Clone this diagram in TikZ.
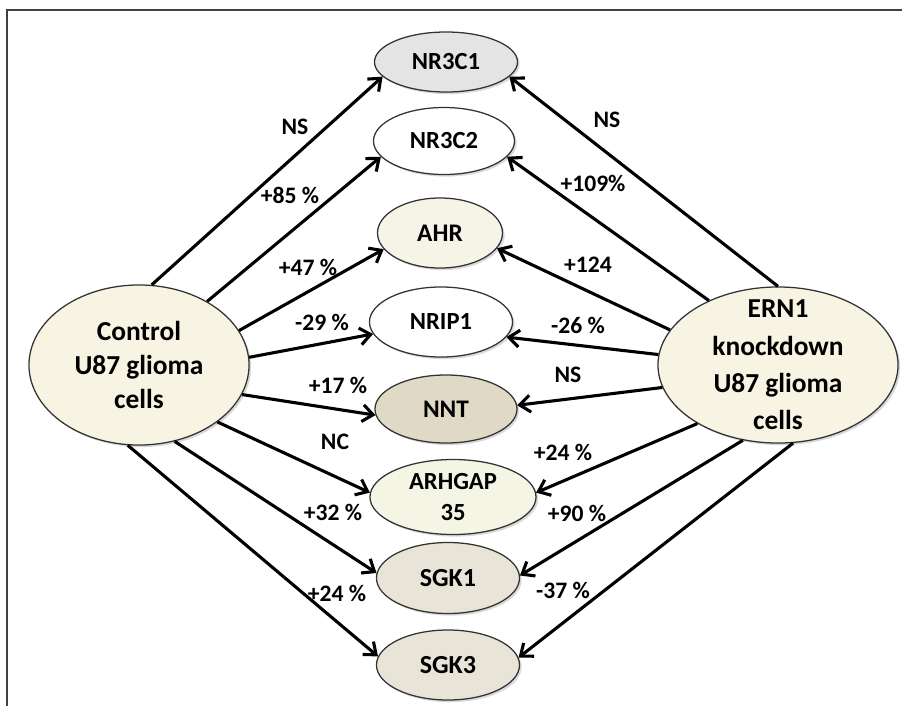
\documentclass[tikz,border=0pt]{standalone}
\usepackage{fontspec}
\setmainfont{Carlito}
\usetikzlibrary{shapes.geometric, arrows.meta, shadows}

\definecolor{cellfill}{HTML}{F7F4E4}
\definecolor{greyfill}{HTML}{E4E4E4}
\definecolor{ahrfill}{HTML}{F6F4E6}
\definecolor{nntfill}{HTML}{E0D9C5}
\definecolor{gapfill}{HTML}{F4F5E4}
\definecolor{sgkfill}{HTML}{E8E4D8}

\tikzset{
  shade/.style={drop shadow={opacity=0.3, shadow xshift=1.5pt, shadow yshift=-1.5pt}},
  cell/.style={ellipse, draw=black!80, line width=0.9pt, inner sep=0pt, fill=cellfill,
    align=center, font=\bfseries\fontsize{19.5}{24.5}\selectfont, shade},
  gene/.style={ellipse, draw=black!80, line width=0.9pt, inner sep=0pt, fill=white,
    align=center, font=\bfseries\fontsize{17.5}{21.5}\selectfont,
    minimum width=3.575cm, minimum height=1.75cm, shade},
  change/.style={font=\bfseries\fontsize{16.8}{20}\selectfont},
  link/.style={line width=2.2pt, -{Straight Barb[length=7.5pt,width=12pt]}},
}

\begin{document}
\begin{tikzpicture}[x=0.025cm, y=-0.025cm]
\useasboundingbox (0,0) rectangle (902,706);
\draw[black!75, line width=1.4pt] (7,706) -- (7,10) -- (902,10);

% cells
\node[cell, minimum width=5.5cm, minimum height=4cm] (ctrl) at (139,365) {Control\\U87 glioma\\cells};
\node[cell, minimum width=6cm, minimum height=3.9cm, inner ysep=-10pt, font=\bfseries\fontsize{19.5}{26.5}\selectfont] (ern) at (778,365) {ERN1\\knockdown\\U87 glioma\\cells};

% genes
\node[gene, fill=greyfill, minimum height=1.5cm] (nr3c1) at (446,62) {NR3C1};
\node[gene, minimum width=3.525cm, minimum height=1.675cm] (nr3c2) at (444,141) {NR3C2};
\node[gene, fill=ahrfill, minimum width=3.125cm, font=\bfseries\fontsize{18}{22}\selectfont] (ahr) at (440,233) {AHR};
\node[gene] (nrip1) at (441,322) {NRIP1};
\node[gene, fill=nntfill, minimum width=3.55cm, minimum height=1.7cm, font=\bfseries\fontsize{18}{22}\selectfont] (nnt) at (446,409) {NNT};
\node[gene, fill=gapfill, minimum width=4.15cm, minimum height=1.875cm] (arhgap) at (453,497) {ARHGAP\\35};
\node[gene, fill=sgkfill, minimum height=1.775cm, font=\bfseries\fontsize{18.5}{22}\selectfont] (sgk1) at (448,578) {SGK1};
\node[gene, fill=sgkfill, font=\bfseries\fontsize{18.5}{22}\selectfont] (sgk3) at (448,665) {SGK3};

% connectors
\foreach \g/\a/\b in {nr3c1/81/193, nr3c2/43/194, ahr/19/196, nrip1/4/190,
  nnt/-16/185, arhgap/-36/177, sgk1/-65/176, sgk3/-98/173}
  \draw[link] (ctrl.\a) -- (\g.\b);
\foreach \g/\a/\b in {nr3c1/90/347, nr3c2/137/346, ahr/162/345, nrip1/175/347,
  nnt/191/3, arhgap/216/3, sgk1/245/2, sgk3/281/6}
  \draw[link] (ern.\a) -- (\g.\b);

% changes
\foreach \n/\x/\y/\t in {c1/295/127/NS, c2/290/195/+85 \%, c3/308/267/+47 \%,
  c4/322/322/-29 \%, c5/338/385/+17 \%, c6/335/442/NC, c7/333/512/+32 \%,
  c8/337/593/+24 \%, e1/607/120/NS, e2/593/183/+109\%, e3/588/265/+124,
  e4/578/325/-26 \%, e5/568/375/NS, e6/563/452/+24 \%, e7/577/513/+90 \%,
  e8/563/590/-37 \%}
  \node[change] (\n) at (\x,\y) {\t};
\end{tikzpicture}
\end{document}
